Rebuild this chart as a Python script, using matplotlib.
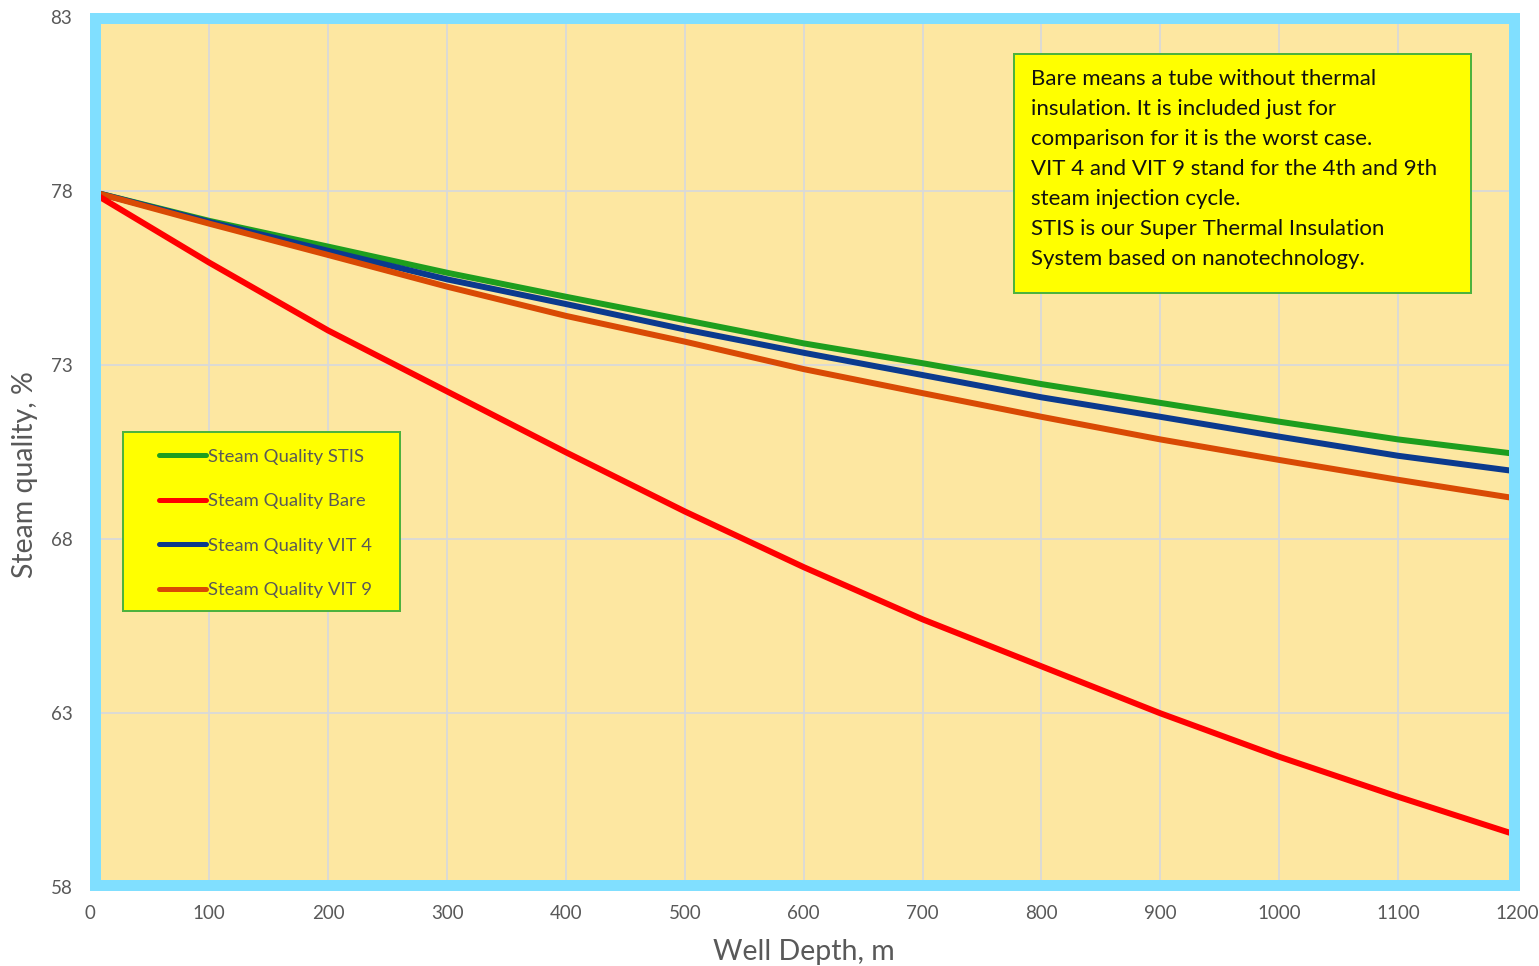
import matplotlib
matplotlib.use("Agg")
import matplotlib.pyplot as plt
from matplotlib.patches import Rectangle
from matplotlib.lines import Line2D

# Steam quality (%) along the well, sampled every 100 m
depth_m = [0, 100, 200, 300, 400, 500, 600, 700, 800, 900, 1000, 1100, 1200]
quality_stis = [78.0, 77.15, 76.41, 75.66, 74.97, 74.30, 73.63, 73.06, 72.46, 71.92, 71.38, 70.87, 70.45]
quality_bare = [78.0, 75.95, 74.00, 72.25, 70.50, 68.80, 67.20, 65.70, 64.35, 63.00, 61.75, 60.60, 59.50]
quality_vit4 = [78.0, 77.12, 76.29, 75.47, 74.76, 74.03, 73.36, 72.72, 72.08, 71.52, 70.95, 70.40, 69.95]
quality_vit9 = [78.0, 77.07, 76.17, 75.26, 74.42, 73.68, 72.89, 72.20, 71.52, 70.87, 70.28, 69.71, 69.17]

series_labels = ["Steam Quality STIS", "Steam Quality Bare", "Steam Quality VIT 4", "Steam Quality VIT 9"]
x_ticks = list(range(0, 1201, 100))
y_ticks = [58, 63, 68, 73, 78, 83]

note_text = ("Bare means a tube without thermal\n"
             "insulation. It is included just for\n"
             "comparison for it is the worst case.\n"
             "VIT 4 and VIT 9 stand for the 4th and 9th\n"
             "steam injection cycle.\n"
             "STIS is our Super Thermal Insulation\n"
             "System based on nanotechnology.")

GREEN = "#1E9E1E"
RED = "#FF0000"
BLUE = "#0B3A8E"
ORANGE = "#D94A04"
GRAY_TXT = "#595959"
FACE = "#FDE7A1"
FRAME = "#80DFFF"
BOX = "#FFFF00"
BOX_EDGE = "#4DB33D"

plt.rcParams["font.family"] = ["Lato", "DejaVu Sans"]

W, H = 1539, 966
DPI = 100
fig = plt.figure(figsize=(W / DPI, H / DPI), dpi=DPI)
fig.patch.set_facecolor("white")


def fx(px):
    return px / W


def fy(py):
    return 1 - py / H


def pt(px):
    return px * 72 / DPI


ax = fig.add_axes([fx(90.4), fy(887.3), fx(1517) - fx(90.4), fy(17.3) - fy(887.3)])
ax.set_xlim(0, 1200)
ax.set_ylim(58, 83)
ax.set_xticks(x_ticks)
ax.set_yticks(y_ticks)
ax.set_facecolor(FACE)
ax.grid(True, color="#D9D9D9", linewidth=1.3)
ax.set_axisbelow(True)
for s in ax.spines.values():
    s.set_visible(False)
ax.tick_params(axis="both", length=0, labelsize=13.5, labelcolor=GRAY_TXT)
ax.tick_params(axis="y", pad=13)
ax.tick_params(axis="x", pad=13)

lw = pt(6)
l_stis, = ax.plot(depth_m, quality_stis, color=GREEN, lw=lw, solid_capstyle="butt", zorder=2)
l_vit4, = ax.plot(depth_m, quality_vit4, color=BLUE, lw=lw, solid_capstyle="butt", zorder=2.1)
l_vit9, = ax.plot(depth_m, quality_vit9, color=ORANGE, lw=lw, solid_capstyle="butt", zorder=2.2)
l_bare, = ax.plot(depth_m, quality_bare, color=RED, lw=lw, solid_capstyle="butt", zorder=2.3)

# thick plot-area frame
frame = Rectangle((fx(94.5), fy(885)), fx(1514) - fx(94.5), fy(17.5) - fy(885),
                  transform=fig.transFigure, fill=False, edgecolor=FRAME,
                  linewidth=pt(11), joinstyle="miter", zorder=2.6, clip_on=False)
ax.add_artist(frame)

ax.set_xlabel("Well Depth, m", fontsize=20.5, color=GRAY_TXT)
ax.xaxis.set_label_coords(0.5, (887.3 - 952) / 870)
ax.xaxis.label.set_va("center")
ax.set_ylabel("Steam quality, %", fontsize=20.5, color=GRAY_TXT)
ax.yaxis.set_label_coords((25 - 90.4) / 1426.6, (887.3 - 475) / 870)
ax.yaxis.label.set_va("center")

# legend panel
leg_box = Rectangle((fx(123), fy(611)), fx(400) - fx(123), fy(432) - fy(611),
                    transform=fig.transFigure, facecolor=BOX, edgecolor=BOX_EDGE,
                    linewidth=pt(2), zorder=4, clip_on=False)
ax.add_artist(leg_box)
handles = [Line2D([], [], color=c, lw=pt(5), solid_capstyle="round")
           for c in (GREEN, RED, BLUE, ORANGE)]
leg = ax.legend(handles, series_labels, loc="center left",
                bbox_to_anchor=(fx(159), fy(523.5)), bbox_transform=fig.transFigure,
                frameon=False, fontsize=13.3, borderpad=0, borderaxespad=0,
                handlelength=2.55, handletextpad=0.1, labelspacing=1.55)
leg.set_zorder(5)
for t in leg.get_texts():
    t.set_color(GRAY_TXT)

# note panel
note_box = Rectangle((fx(1014), fy(293)), fx(1471) - fx(1014), fy(54) - fy(293),
                     transform=fig.transFigure, facecolor=BOX, edgecolor=BOX_EDGE,
                     linewidth=pt(2), zorder=4, clip_on=False)
ax.add_artist(note_box)
fig.text(fx(1031), fy(169), note_text, fontsize=16, color="#111111",
         ha="left", va="center", linespacing=1.63, zorder=5)

fig.savefig("out.png", dpi=DPI)
